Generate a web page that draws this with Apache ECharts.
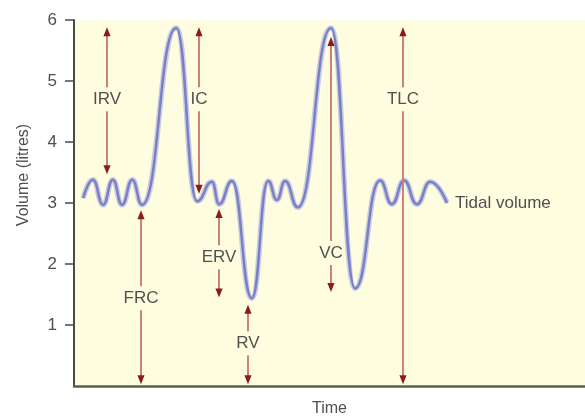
<!DOCTYPE html>
<html>
<head>
<meta charset="utf-8">
<title>Lung volumes</title>
<script src="https://cdn.jsdelivr.net/npm/echarts@6/dist/echarts.min.js"></script>
<style>
  html, body { margin: 0; padding: 0; background: #ffffff; }
  #chart { width: 585px; height: 417px; }
</style>
</head>
<body>
<div id="chart"></div>
<script>
// Spirometer trace: time (arbitrary units) against lung volume (litres)
const traceTime = [1.8, 3.7, 5.7, 7.6, 9.4, 11.4, 13.3, 20.0, 24.1,
  27.0, 28.4, 30.9, 34.8, 38.0, 39.7, 41.3, 43.8,
  50.3, 55.0,
  59.9, 62.2, 64.6, 67.1, 69.7, 73.0];
const traceVolume = [3.08, 3.38, 2.97, 3.38, 2.97, 3.38, 2.97, 5.87, 3.03,
  3.35, 2.98, 3.36, 1.44, 3.36, 3.05, 3.36, 2.93,
  5.87, 1.6,
  3.37, 2.98, 3.37, 2.98, 3.35, 3.0];

// Labelled volume spans (double-headed arrows)
const spanNames  = ['IRV', 'IC', 'FRC', 'ERV', 'RV', 'VC', 'TLC'];
const spanTime   = [6.46, 24.46, 13.11, 28.38, 34.05, 50.29, 64.38];
const spanTop    = [5.88, 5.88, 2.88, 2.9, 1.33, 5.72, 5.88];
const spanBottom = [3.47, 3.15, 0.03, 1.45, 0.03, 1.54, 0.03];
const spanLabelAt = [4.7, 4.7, 1.44, 2.11, 0.7, 2.18, 4.7];

const yTicks = [1, 2, 3, 4, 5, 6];

const FONT = '"Liberation Sans", Arial, sans-serif';
const TEXT = '#505050';

const trace = traceTime.map((t, i) => [t, traceVolume[i]]);
const spans = spanTime.map((t, i) => [t, spanTop[i], spanBottom[i], spanLabelAt[i]]);

function renderSpan(params, api) {
  const t = api.value(0);
  const pTop = api.coord([t, api.value(1)]);
  const pBot = api.coord([t, api.value(2)]);
  const pLab = api.coord([t, api.value(3)]);
  const x = pTop[0];
  const head = 9, half = 3.6, gap = 12;
  const lineStyle = { stroke: '#cd817c', lineWidth: 2 };
  const headStyle = { fill: '#8a1c1c' };
  return {
    type: 'group',
    children: [
      { type: 'line', shape: { x1: x, y1: pTop[1] + head - 1, x2: x, y2: pLab[1] - gap }, style: lineStyle },
      { type: 'line', shape: { x1: x, y1: pLab[1] + gap, x2: x, y2: pBot[1] - head + 1 }, style: lineStyle },
      { type: 'polygon', shape: { points: [[x, pTop[1]], [x - half, pTop[1] + head], [x + half, pTop[1] + head]] }, style: headStyle },
      { type: 'polygon', shape: { points: [[x, pBot[1]], [x - half, pBot[1] - head], [x + half, pBot[1] - head]] }, style: headStyle },
      { type: 'text', style: { text: spanNames[params.dataIndex], x: x, y: pLab[1], textAlign: 'center', textVerticalAlign: 'middle', font: '17px ' + FONT, fill: TEXT } }
    ]
  };
}

const chart = echarts.init(document.getElementById('chart'), null, { renderer: 'canvas' });
chart.setOption({
  animation: false,
  backgroundColor: '#ffffff',
  grid: { left: 74, right: 0, top: 20, bottom: 31, outerBoundsMode: 'none', containLabel: false,
    show: true, backgroundColor: '#fffddf', borderWidth: 0 },
  xAxis: {
    type: 'value', min: 0, max: 100,
    name: 'Time', nameLocation: 'middle', nameGap: 15,
    nameTextStyle: { fontFamily: FONT, fontSize: 16, color: TEXT },
    axisLine: { show: true, onZero: false, lineStyle: { color: '#5b6152', width: 2.5 } },
    axisTick: { show: false }, axisLabel: { show: false }, splitLine: { show: false }
  },
  yAxis: {
    type: 'value', min: 0, max: 6, interval: 1,
    axisLine: { show: true, lineStyle: { color: '#4a4a4a', width: 2 } },
    axisTick: { show: true, length: 9, customValues: yTicks, lineStyle: { color: '#4a4a4a', width: 1.5 } },
    axisLabel: { margin: 17, fontFamily: FONT, fontSize: 17, color: TEXT, customValues: yTicks },
    splitLine: { show: false }
  },
  graphic: [{
    type: 'text', x: 24, y: 175, rotation: Math.PI / 2,
    style: { text: 'Volume (litres)', textAlign: 'center', textVerticalAlign: 'middle', font: '16px ' + FONT, fill: TEXT }
  }],
  series: [
    {
      type: 'line', data: trace, smooth: 0.5, smoothMonotone: 'x', symbol: 'none', z: 2,
      lineStyle: { color: 'rgba(160,165,225,0.55)', width: 5.5 }
    },
    {
      type: 'line', data: trace, smooth: 0.5, smoothMonotone: 'x', symbol: 'none', z: 3,
      lineStyle: { color: '#7a80c6', width: 2.5 },
      endLabel: { show: true, formatter: 'Tidal volume', distance: 8, fontFamily: FONT, fontSize: 17, color: TEXT }
    },
    {
      type: 'custom', data: spans, renderItem: renderSpan, clip: false, z: 4,
      encode: { x: 0, y: [1, 2, 3] }
    }
  ]
});
</script>
</body>
</html>
